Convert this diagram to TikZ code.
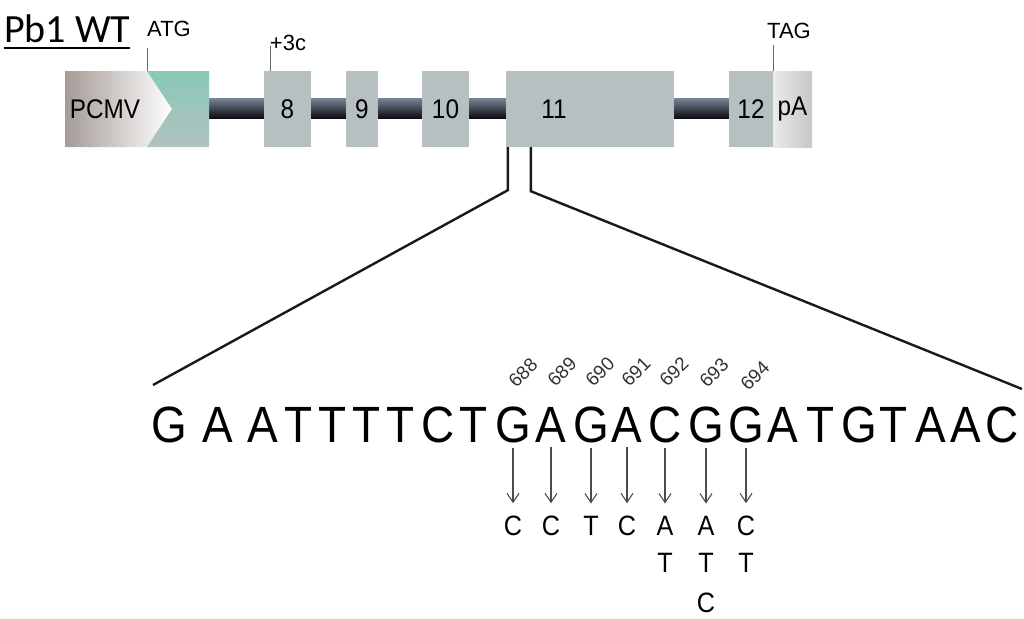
\documentclass[tikz,border=0pt]{standalone}
\usepackage{fontspec}
\setmainfont{Liberation Sans}
\newfontfamily\narrowfont[FakeStretch=0.9]{Liberation Sans}
\newfontfamily\calibrifont{Carlito}
\usetikzlibrary{arrows.meta}
\begin{document}
\begin{tikzpicture}[x=1pt,y=-1pt,
exon/.style={fill=exongris,inner sep=0pt,minimum height=76pt,font=\narrowfont\fontsize{27}{27}\selectfont},
repere/.style={draw=black!60,line width=0.8pt},
marque/.style={inner sep=0pt,font=\fontsize{22}{22}\selectfont},
zoom/.style={draw=black!90,line width=2.4pt},
nt/.style={inner sep=0pt,anchor=base,font=\narrowfont\fontsize{51}{51}\selectfont},
numpos/.style={inner sep=0pt,rotate=45,font=\fontsize{19}{19}\selectfont,text=black!80},
mut/.style={inner sep=0pt,anchor=base,font=\narrowfont\fontsize{28}{28}\selectfont},
fleche/.style={-{Straight Barb[length=9pt,width=12pt]},draw=black!70,line width=1.1pt,shorten <=5pt,shorten >=12pt}]
\definecolor{exongris}{RGB}{183,192,192}
\definecolor{sarcelle}{RGB}{136,201,184}
\definecolor{sarcellebas}{RGB}{178,193,191}
\definecolor{promoteur}{RGB}{164,155,150}
\definecolor{intronhaut}{RGB}{118,134,150}
\definecolor{intronmil}{RGB}{34,38,42}
\definecolor{intronbas}{RGB}{12,14,16}
\useasboundingbox (0,0) rectangle (1024,618);
% construction
\node[anchor=base west,inner sep=0pt,font=\calibrifont\fontsize{40}{40}\selectfont] (titre) at (4,42) {Pb1 WT};
\draw[line width=2.2pt] ([yshift=-6pt]titre.base west) -- ([yshift=-6pt]titre.base east);
\shade[top color=intronhaut,middle color=intronmil,bottom color=intronbas] (209,98) rectangle (729,118);
\shade[left color=promoteur,right color=white] (65,71) -- (147,71) -- (172,109) -- (147,147) -- (65,147) -- cycle;
\shade[top color=sarcelle,bottom color=sarcellebas] (147,71) -- (209,71) -- (209,147) -- (147,147) -- (172,109) -- cycle;
\node[exon,fill=none,minimum width=0pt] (pcmv) at (105,109) {PCMV};
\node[exon,minimum width=47pt] (e8) at (287.5,109) {8};
\node[exon,minimum width=32pt] (e9) at (362,109) {9};
\node[exon,minimum width=47pt] (e10) at (445.5,109) {10};
\node[exon,minimum width=168pt] (e11) at (590,109) {};
\node[exon,fill=none,minimum width=0pt] (e11txt) at (554,109) {11};
\node[exon,minimum width=44pt] (e12) at (751,109) {12};
\node[exon,minimum width=39pt,left color=black!8,right color=black!22] (pa) at (792.5,109) {pA};
\node[marque] (atg) at (169,28.5) {ATG};
\node[marque] (plus3c) at (288,42.5) {+3c};
\node[marque] (tag) at (789,31) {TAG};
\draw[repere] (147,71) -- (147,48);
\draw[repere] ([xshift=7pt]e8.north west) -- ++(0,-25);
\draw[repere] (e12.north east) -- ++(0,-26);
% agrandissement de l'exon 11
\coordinate (zoomg) at (153,385);
\coordinate (zoomd) at (1022,389);
\draw[zoom] ([xshift=2pt]e11.south west) -- ++(0,43) -- (zoomg);
\draw[zoom] ([xshift=25pt]e11.south west) -- ++(0,44) -- (zoomd);
% sequence
\node[nt] (s1) at (169,442) {G};
\node[nt] (s2) at (218,442) {A};
\node[nt] (s3) at (263,442) {A};
\node[nt] (s4) at (299,442) {T};
\node[nt] (s5) at (333,442) {T};
\node[nt] (s6) at (367,442) {T};
\node[nt] (s7) at (401,442) {T};
\node[nt] (s8) at (438,442) {C};
\node[nt] (s9) at (474,442) {T};
\node[nt] (s10) at (513,442) {G};
\node[nt] (s11) at (551,442) {A};
\node[nt] (s12) at (591,442) {G};
\node[nt] (s13) at (627,442) {A};
\node[nt] (s14) at (665,442) {C};
\node[nt] (s15) at (706,442) {G};
\node[nt] (s16) at (746,442) {G};
\node[nt] (s17) at (783,442) {A};
\node[nt] (s18) at (821,442) {T};
\node[nt] (s19) at (859,442) {G};
\node[nt] (s20) at (894,442) {T};
\node[nt] (s21) at (931,442) {A};
\node[nt] (s22) at (966,442) {A};
\node[nt] (s23) at (1002,442) {C};
\node[numpos] (p688) at (523,373) {688};
\node[numpos] (p689) at (562,372) {689};
\node[numpos] (p690) at (600,372) {690};
\node[numpos] (p691) at (636,372) {691};
\node[numpos] (p692) at (674,372) {692};
\node[numpos] (p693) at (714,373) {693};
\node[numpos] (p694) at (755,376) {694};
% substitutions
\node[mut] (m10) at (513,535) {C};
\node[mut] (m11) at (551,535) {C};
\node[mut] (m12) at (591,535) {T};
\node[mut] (m13) at (627,535) {C};
\node[mut] (m14) at (665,535) {A};
\node[mut] (m14b) at (665,572) {T};
\node[mut] (m15) at (706,535) {A};
\node[mut] (m15b) at (706,572) {T};
\node[mut] (m15c) at (706,612) {C};
\node[mut] (m16) at (746,535) {C};
\node[mut] (m16b) at (746,572) {T};
\draw[fleche] (s10) -- (m10);
\draw[fleche] (s11) -- (m11);
\draw[fleche] (s12) -- (m12);
\draw[fleche] (s13) -- (m13);
\draw[fleche] (s14) -- (m14);
\draw[fleche] (s15) -- (m15);
\draw[fleche] (s16) -- (m16);
\end{tikzpicture}
\end{document}
